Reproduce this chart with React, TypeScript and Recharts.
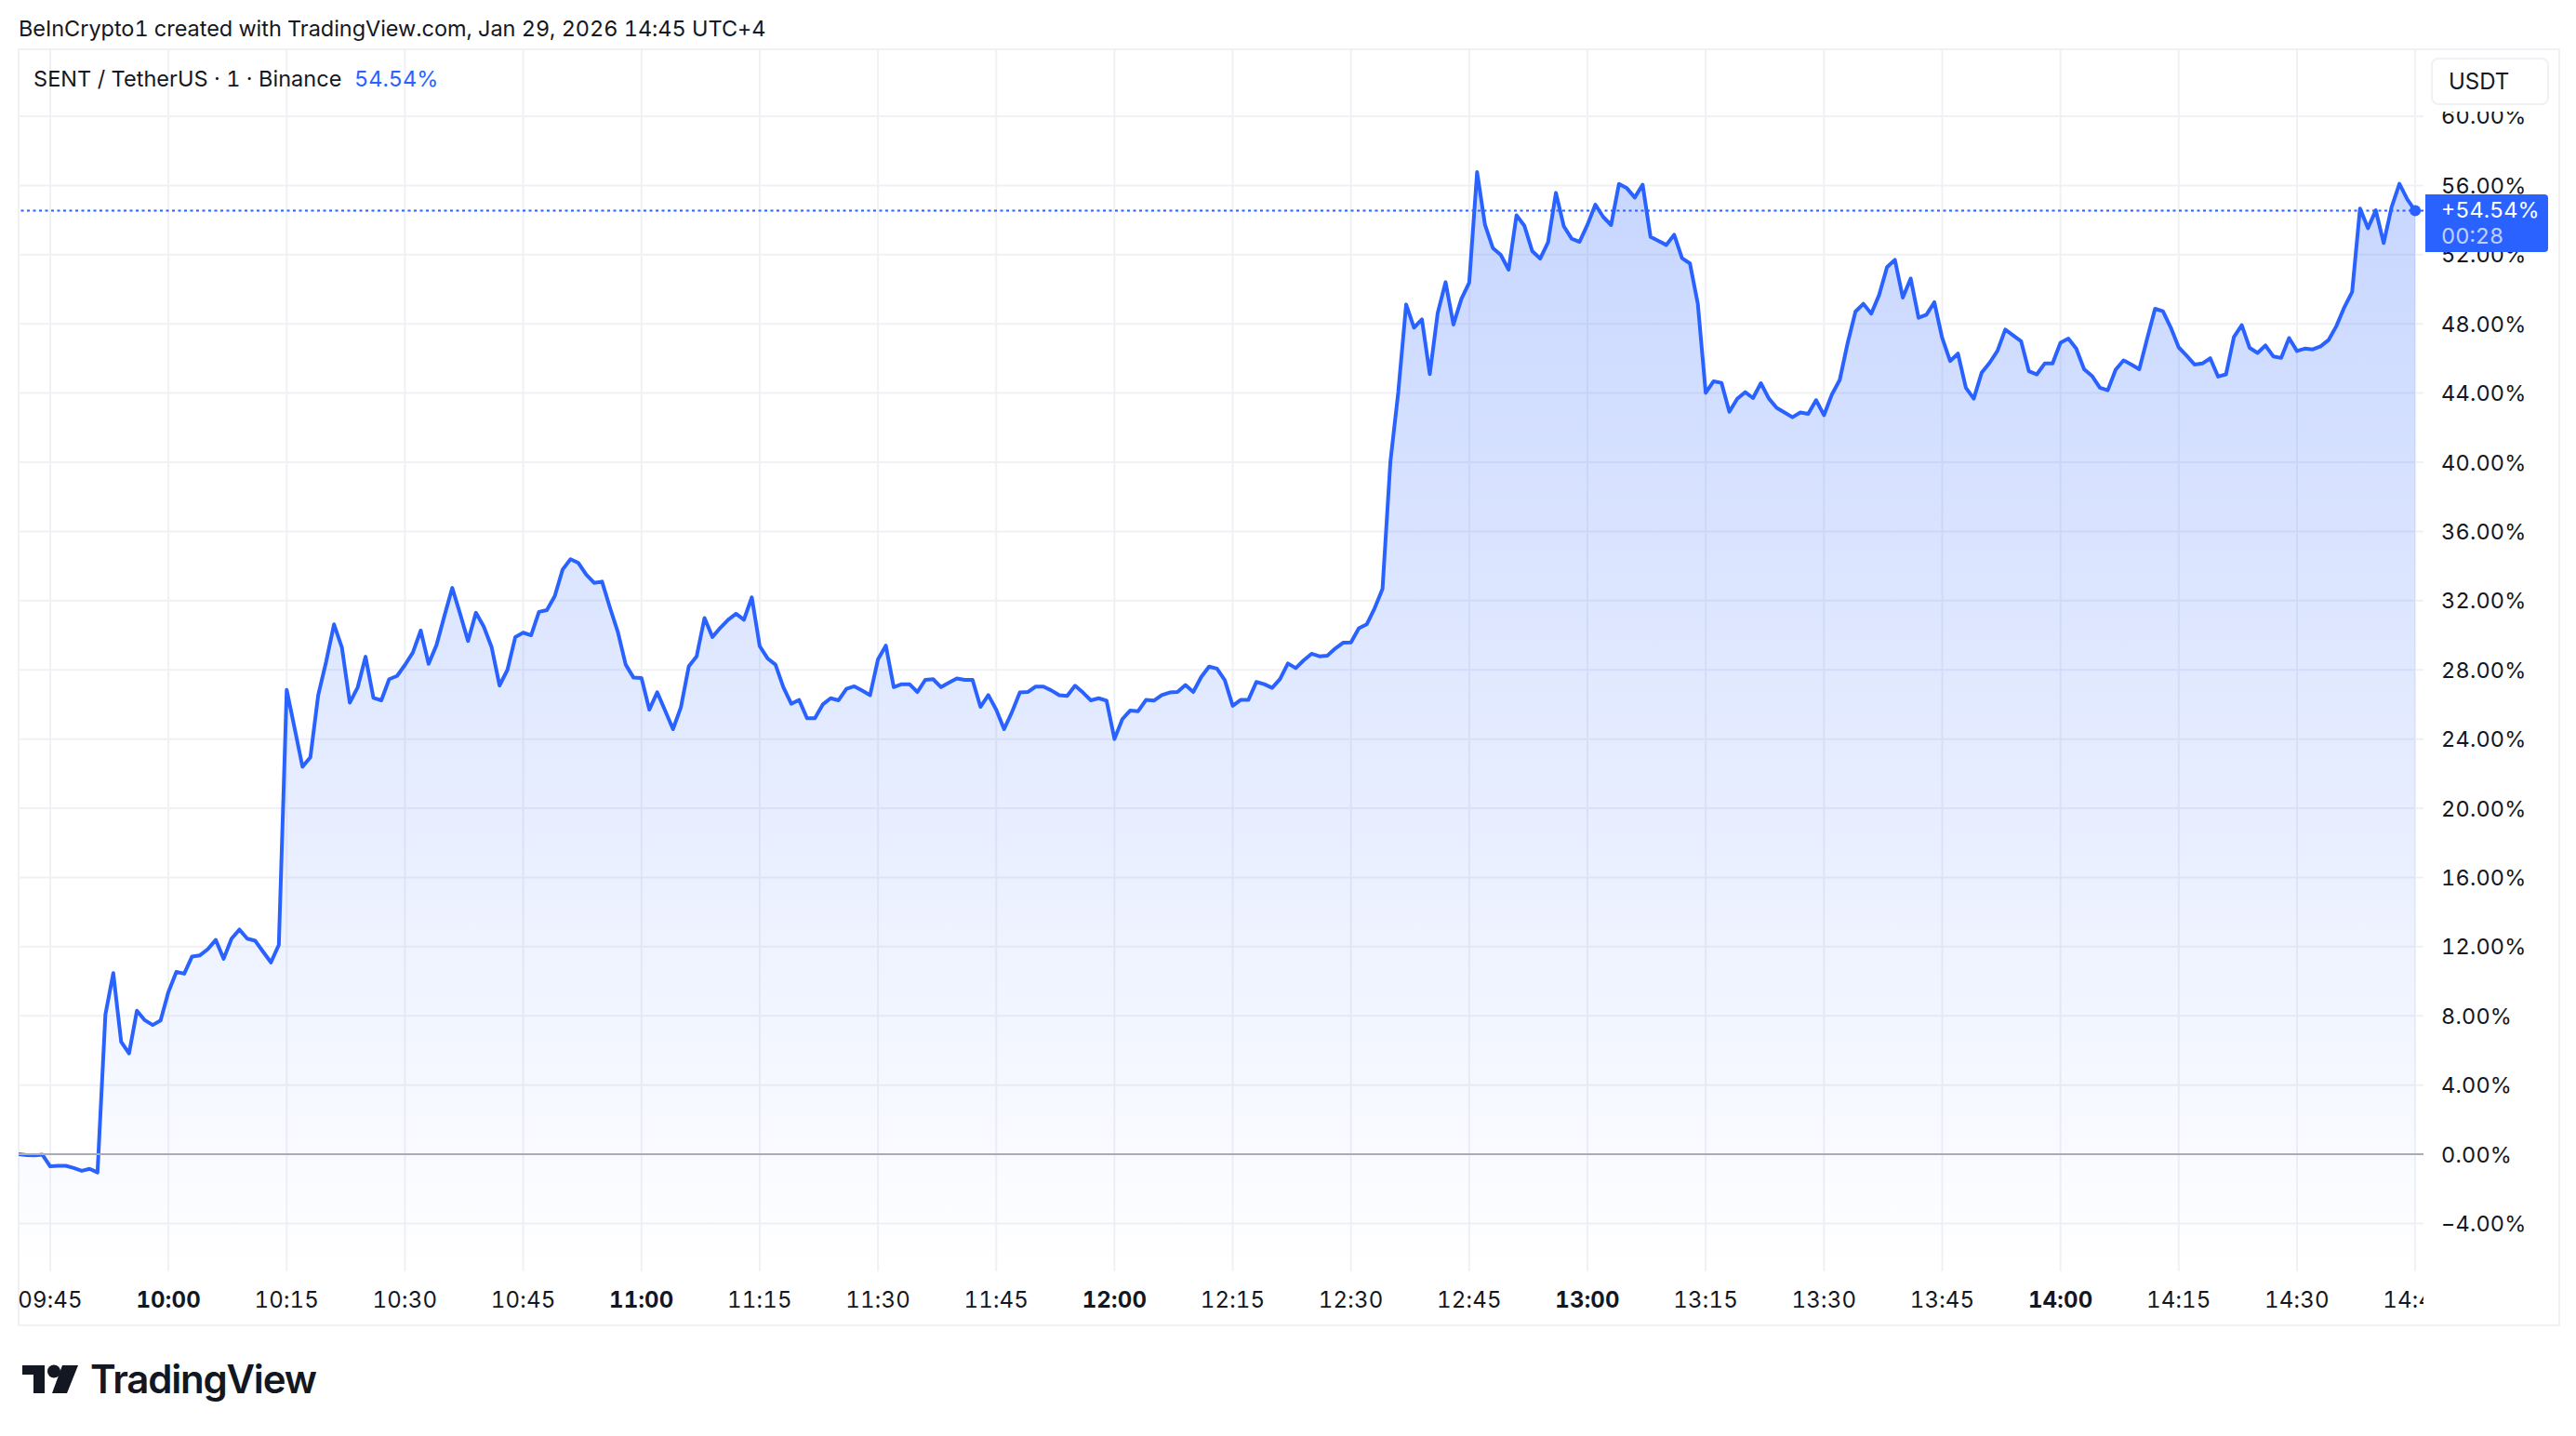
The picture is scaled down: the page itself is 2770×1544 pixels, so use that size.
import { Area, CartesianGrid, ComposedChart, ReferenceDot, ReferenceLine, XAxis, YAxis } from 'recharts'

// Percent change per minute. First sample is 09:41.
const FIRST_MINUTE = -4 // minutes relative to 09:45
const pctChange = [
  0, -0.05, -0.07, -0.02, -0.7, -0.67, -0.67, -0.8, -0.96, -0.84, -1.05,
  8.07, 10.47, 6.5, 5.83, 8.3, 7.75, 7.47, 7.73, 9.39, 10.54, 10.44, 11.43, 11.5, 11.86, 12.39,
  11.3, 12.46, 12.99, 12.46, 12.34, 11.71, 11.09, 12.1,
  26.84, 24.63, 22.4, 22.95, 26.55, 28.47, 30.63, 29.3, 26.1, 26.98, 28.76, 26.38, 26.24, 27.46,
  27.65, 28.28, 29.0, 30.27, 28.35, 29.43, 31.11, 32.74, 31.23, 29.67, 31.3, 30.5, 29.3, 27.1,
  28.0, 29.9, 30.15, 30.0, 31.35, 31.45, 32.26, 33.8, 34.4, 34.18, 33.5, 33.03, 33.1, 31.6, 30.2,
  28.3, 27.55, 27.53,
  25.7, 26.7, 25.65, 24.57, 25.83, 28.2, 28.78, 31.0, 29.9, 30.43, 30.9, 31.24, 30.9, 32.19,
  29.37, 28.66, 28.3, 27.0, 26.04, 26.26, 25.2, 25.2, 26.0, 26.36, 26.24, 26.9, 27.05, 26.8, 26.54,
  28.6, 29.4, 27.0, 27.17, 27.17, 26.72, 27.42, 27.46, 27.0, 27.26, 27.5, 27.42, 27.42, 25.86, 26.54,
  25.7, 24.57, 25.56, 26.69, 26.72, 27.03, 27.03, 26.81, 26.53, 26.49, 27.08, 26.69, 26.24, 26.36, 26.22,
  24.0, 25.15, 25.65, 25.61, 26.26, 26.22, 26.54, 26.69, 26.72, 27.12, 26.72, 27.58, 28.19, 28.07, 27.4,
  25.92, 26.26, 26.27, 27.3, 27.17, 26.96, 27.47, 28.37, 28.1, 28.55, 28.93, 28.78, 28.82, 29.23, 29.57,
  29.59, 30.4, 30.63, 31.56, 32.67,
  40.02, 44.05, 49.12, 47.78, 48.26, 45.09, 48.62, 50.41, 47.96, 49.43,
  50.38, 56.77, 53.73, 52.38, 51.99, 51.13, 54.27, 53.67, 52.2, 51.77, 52.71, 55.57, 53.64, 52.92, 52.74,
  53.73, 54.89, 54.18, 53.71, 56.09, 55.84, 55.3, 56.04, 53.03, 52.8, 52.56, 53.15, 51.79, 51.49, 49.16,
  44.01, 44.68, 44.59, 42.92, 43.67, 44.05, 43.71, 44.57, 43.69, 43.15, 42.88, 42.6, 42.88, 42.8, 43.59,
  42.72, 43.91, 44.76, 46.88, 48.71, 49.16, 48.59, 49.67, 51.28, 51.7, 49.52, 50.62, 48.35, 48.53, 49.25,
  47.18, 45.85, 46.28, 44.31, 43.68, 45.17, 45.74, 46.43, 47.67, 47.33, 47.0, 45.26, 45.08, 45.71, 45.71,
  46.91, 47.15, 46.57, 45.38, 44.99, 44.31, 44.16, 45.35, 45.89, 45.65, 45.38, 47.15, 48.87, 48.73, 47.78,
  46.64, 46.16, 45.65, 45.71, 46.01, 44.95, 45.08, 47.24, 47.92, 46.61, 46.32, 46.75, 46.12, 46.03, 47.18,
  46.43, 46.57, 46.52, 46.7, 47.06, 47.87, 48.95, 49.85, 54.67, 53.53, 54.56, 52.67, 54.74, 56.1, 55.19, 54.54,
]

const timeLabels = [
  '09:45', '10:00', '10:15', '10:30', '10:45', '11:00', '11:15', '11:30', '11:45', '12:00', '12:15',
  '12:30', '12:45', '13:00', '13:15', '13:30', '13:45', '14:00', '14:15', '14:30', '14:45',
]
const percentTicks = [-4, 0, 4, 8, 12, 16, 20, 24, 28, 32, 36, 40, 44, 48, 52, 56, 60]

const LAST_VALUE = 54.54
const LAST_MINUTE = 300
const BLUE = '#2962ff'
const INK = '#131722'
const GRID = '#f0f1f4'
const FONT = 'Inter, "Noto Sans", sans-serif'
const TABULAR = { fontVariantNumeric: 'tabular-nums' } as const

const rows = pctChange.map((pct, i) => ({ minute: FIRST_MINUTE + i, pct }))
const minuteTicks = timeLabels.map((_, i) => i * 15)

function TimeTick({ x, y, payload }: any) {
  const label = timeLabels[payload.value / 15]
  const isHour = label.endsWith(':00')
  return (
    <text
      x={x}
      y={y + 30}
      dominantBaseline="central"
      textAnchor="middle"
      fontFamily={FONT}
      fontSize={24}
      fontWeight={isHour ? 700 : 400}
      letterSpacing={0.2}
      fill={INK}
      style={TABULAR}
      clipPath="url(#timeScaleClip)"
    >
      {label}
    </text>
  )
}

function PercentTick({ x, y, payload }: any) {
  const v = payload.value
  const label = `${v < 0 ? '−' : ''}${Math.abs(v).toFixed(2)}%`
  return (
    <text
      x={x + 19}
      y={y}
      dominantBaseline="central"
      textAnchor="start"
      fontFamily={FONT}
      fontSize={23.5}
      letterSpacing={0.2}
      fill={INK}
      style={TABULAR}
    >
      {label}
    </text>
  )
}

function TvLogo() {
  return (
    <svg width={62} height={32} viewBox="0 0 62 32" style={{ position: 'absolute', left: 23, top: 1467 }}>
      <path d="M1 1H25V31H13V11H1Z" fill={INK} />
      <circle cx={35} cy={7.5} r={7} fill={INK} />
      <path d="M44 1H61L49 31H33Z" fill={INK} />
    </svg>
  )
}

export default function App() {
  const textBase = { position: 'absolute', fontFamily: FONT, color: INK, whiteSpace: 'nowrap' } as const
  return (
    <div style={{ position: 'absolute', left: 0, top: 0, width: 2770, height: 1544, background: '#fff', overflow: 'hidden' }}>
      <div style={{ position: 'absolute', left: 19, top: 52, width: 2730, height: 1370, border: `2px solid ${GRID}` }} />

      <ComposedChart
        width={2770}
        height={1544}
        data={rows}
        margin={{ top: 53, right: 0, bottom: 0, left: 20 }}
        style={{ position: 'absolute', left: 0, top: 0 }}
      >
        <defs>
          <linearGradient id="areaFill" x1="0" y1="0" x2="0" y2="1">
            <stop offset="0%" stopColor={BLUE} stopOpacity={0.26} />
            <stop offset="100%" stopColor={BLUE} stopOpacity={0} />
          </linearGradient>
          <clipPath id="timeScaleClip">
            <rect x={0} y={1367} width={2606} height={60} />
          </clipPath>
        </defs>
        <CartesianGrid stroke={GRID} strokeWidth={2} syncWithTicks />
        <XAxis
          dataKey="minute"
          type="number"
          domain={[-4.01, 301.05]}
          ticks={minuteTicks}
          interval={0}
          height={177}
          axisLine={false}
          tickLine={false}
          tickSize={0}
          tickMargin={0}
          tick={<TimeTick />}
          allowDataOverflow
        />
        <YAxis
          orientation="right"
          type="number"
          domain={[-6.77, 63.87]}
          ticks={percentTicks}
          interval={0}
          width={164}
          axisLine={false}
          tickLine={false}
          tickSize={0}
          tickMargin={0}
          tick={<PercentTick />}
          allowDataOverflow
        />
        <ReferenceLine y={0} stroke="#a9acb4" strokeWidth={2} />
        <Area
          dataKey="pct"
          type="linear"
          stroke={BLUE}
          strokeWidth={4}
          strokeLinejoin="round"
          fill="url(#areaFill)"
          fillOpacity={1}
          baseValue={-6.77}
          dot={false}
          activeDot={false}
          isAnimationActive={false}
        />
        <ReferenceLine y={LAST_VALUE} stroke={BLUE} strokeWidth={2} strokeDasharray="3 3.5" />
        <ReferenceDot x={LAST_MINUTE} y={LAST_VALUE} r={6} fill={BLUE} stroke="none" />
      </ComposedChart>

      <div style={{ ...textBase, ...TABULAR, left: 20, top: 17, fontSize: 23.5, lineHeight: '28px', letterSpacing: -0.04 }}>
        BeInCrypto1 created with TradingView.com, Jan 29, 2026 14:45 UTC+4
      </div>
      <div style={{ ...textBase, ...TABULAR, left: 36, top: 71, fontSize: 23.5, lineHeight: '28px', letterSpacing: 0.05 }}>
        SENT / TetherUS · 1 · Binance
      </div>
      <div style={{ ...textBase, ...TABULAR, left: 381, top: 71, fontSize: 23.5, lineHeight: '28px', color: BLUE }}>54.54%</div>

      {/* USDT button sits on top of the scale and hides the top of the 60% label */}
      <div style={{ position: 'absolute', left: 2614, top: 56, width: 130, height: 64, background: '#fff' }} />
      <div
        style={{
          ...textBase,
          left: 2614,
          top: 62,
          width: 127,
          height: 51,
          boxSizing: 'border-box',
          border: `2px solid ${GRID}`,
          borderRadius: 8,
          background: '#fff',
          paddingLeft: 17,
          fontSize: 24,
          lineHeight: '47px',
        }}
      >
        USDT
      </div>

      <div
        style={{
          ...textBase,
          ...TABULAR,
          left: 2608,
          top: 209,
          width: 132,
          height: 62,
          background: BLUE,
          borderRadius: '0 4px 4px 0',
          color: '#fff',
          fontSize: 23.5,
          letterSpacing: 0,
        }}
      >
        <div style={{ position: 'absolute', left: 17, top: 3, lineHeight: '28px' }}>+54.54%</div>
        <div style={{ position: 'absolute', left: 17, top: 31, lineHeight: '28px', opacity: 0.7 }}>00:28</div>
      </div>

      <TvLogo />
      <div style={{ ...textBase, left: 97, top: 1458, fontSize: 42, lineHeight: '50px', fontWeight: 600, letterSpacing: -1.2 }}>
        TradingView
      </div>
    </div>
  )
}
